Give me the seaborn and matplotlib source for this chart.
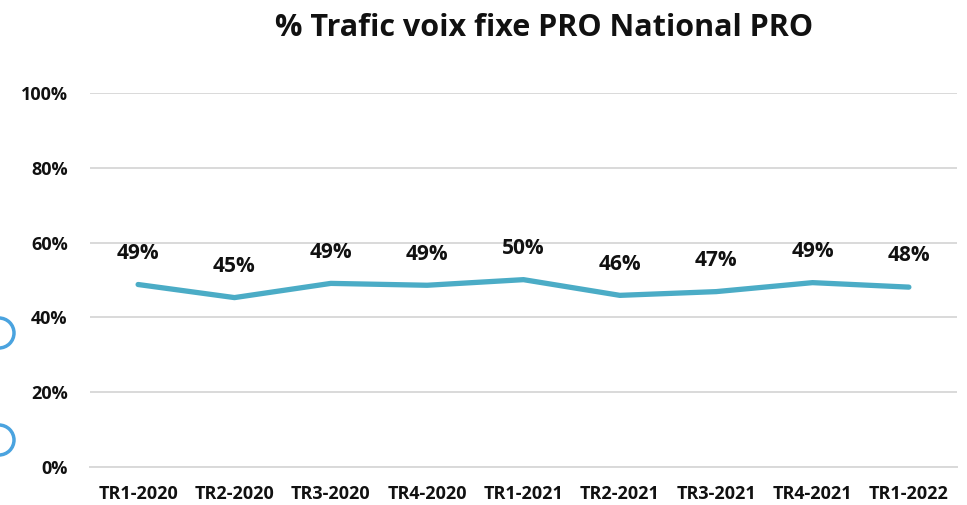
import matplotlib
matplotlib.use("Agg")
import matplotlib.pyplot as plt
from matplotlib.patches import Circle
import seaborn as sns
import pandas as pd

quarters = ["TR1-2020", "TR2-2020", "TR3-2020", "TR4-2020", "TR1-2021",
            "TR2-2021", "TR3-2021", "TR4-2021", "TR1-2022"]
share = [0.488, 0.453, 0.491, 0.486, 0.501, 0.459, 0.469, 0.493, 0.481]
title = "% Trafic voix fixe PRO National PRO"

sns.set_theme(style="white")
plt.rcParams["font.family"] = ["Open Sans", "DejaVu Sans"]

df = pd.DataFrame({"quarter": quarters, "share": share})

fig = plt.figure(figsize=(9.67, 5.05), dpi=100)
ax = fig.add_axes([0.093, 0.0752, 0.8967, 0.7406])

sns.lineplot(data=df, x="quarter", y="share", ax=ax, color="#4BACC6",
             linewidth=3.8, solid_capstyle="round", solid_joinstyle="round")

for i, v in enumerate(share):
    ax.annotate(f"{v * 100:.0f}%", (i, v), xytext=(0, 22.5),
                textcoords="offset points", ha="center", va="center",
                fontsize=15, fontweight="bold", color="#111111")

ax.set_ylim(0, 1)
ax.set_xlim(-0.5, len(quarters) - 0.5)
ax.set_yticks([0, 0.2, 0.4, 0.6, 0.8, 1.0])
ax.set_yticklabels([f"{int(t * 100)}%" for t in ax.get_yticks()])
ax.yaxis.grid(True, color="#D9D9D9", linewidth=1.4)
ax.xaxis.grid(False)
for s in ["top", "right", "left"]:
    ax.spines[s].set_visible(False)
ax.spines["bottom"].set_color("#D9D9D9")
ax.spines["bottom"].set_linewidth(1.4)
ax.set_xlabel("")
ax.set_ylabel("")
ax.tick_params(axis="y", length=0, pad=16, labelsize=13)
ax.tick_params(axis="x", length=0, pad=13, labelsize=13)
for lbl in ax.get_xticklabels() + ax.get_yticklabels():
    lbl.set_fontweight("bold")
    lbl.set_color("#111111")

fig.text(0.563, 0.945, title, ha="center", va="center",
         fontsize=22, fontweight="bold", color="#111111")

# decorative rings on the left edge
for cy in (333, 440):
    fig.patches.append(Circle((-1, 505 - cy), 15, transform=None,
                              fill=False, edgecolor="#4AA3DF", linewidth=2.5))

fig.savefig("out.png", dpi=100, facecolor="white")
